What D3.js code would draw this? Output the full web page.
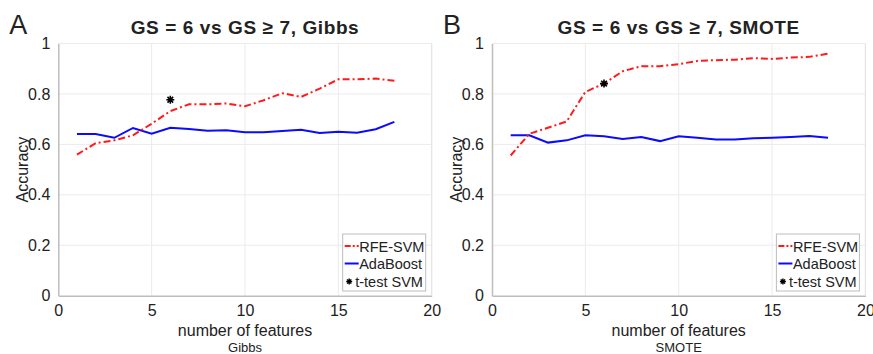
<!DOCTYPE html>
<html>
<head>
<meta charset="utf-8">
<script src="https://cdn.jsdelivr.net/npm/d3@7"></script>
<style>
  body { margin: 0; background: #fff; }
  text { font-family: "Liberation Sans", Arial, sans-serif; fill: #222; }
</style>
</head>
<body>
<div id="chart"></div>
<script>
// Data
var features = [1, 2, 3, 4, 5, 6, 7, 8, 9, 10, 11, 12, 13, 14, 15, 16, 17, 18];

var gibbsRfe = [0.559, 0.605, 0.616, 0.636, 0.682, 0.732, 0.759, 0.759, 0.762, 0.751,
                0.775, 0.803, 0.788, 0.821, 0.858, 0.858, 0.861, 0.852];
var gibbsAda = [0.641, 0.641, 0.626, 0.665, 0.642, 0.666, 0.661, 0.654, 0.656, 0.648,
                0.648, 0.653, 0.658, 0.645, 0.650, 0.646, 0.660, 0.689];
var gibbsTtest = { x: 6, y: 0.777 };

var smoteRfe = [0.556, 0.642, 0.666, 0.691, 0.808, 0.841, 0.890, 0.910, 0.910, 0.918,
                0.931, 0.934, 0.936, 0.942, 0.939, 0.944, 0.947, 0.960];
var smoteAda = [0.636, 0.636, 0.607, 0.616, 0.636, 0.632, 0.621, 0.629, 0.613, 0.632,
                0.626, 0.619, 0.619, 0.624, 0.626, 0.629, 0.633, 0.626];
var smoteTtest = { x: 6, y: 0.841 };

var xTicks = [0, 5, 10, 15, 20];
var yTicks = [0, 0.2, 0.4, 0.6, 0.8, 1];
var legendNames = ["RFE-SVM", "AdaBoost", "t-test SVM"];

var panels = [
  { letter: "A", title: "GS = 6 vs GS \u2265 7, Gibbs", sub: "Gibbs", left: 58.3,
    rfe: gibbsRfe, ada: gibbsAda, star: gibbsTtest },
  { letter: "B", title: "GS = 6 vs GS \u2265 7, SMOTE", sub: "SMOTE", left: 492,
    rfe: smoteRfe, ada: smoteAda, star: smoteTtest }
];

// Measurement
var w = 873, h = 354;
var plotW = 373.4, plotTop = 43.5, plotBottom = 295.7;

var svg = d3.select("#chart")
  .append("svg")
  .attr("width", w)
  .attr("height", h);

// asterisk marker like MATLAB '*'
function starPath(r) {
  var p = "";
  for (var k = 0; k < 4; k++) {
    var a = k * Math.PI / 4;
    p += "M" + (-r * Math.cos(a)) + "," + (-r * Math.sin(a)) + "L" + (r * Math.cos(a)) + "," + (r * Math.sin(a));
  }
  return p;
}

panels.forEach(function(pn) {
  var xScale = d3.scaleLinear().domain([0, 20]).range([pn.left, pn.left + plotW]);
  var yScale = d3.scaleLinear().domain([0, 1]).range([plotBottom, plotTop]);

  var g = svg.append("g");

  // grid
  g.selectAll(".vgrid")
    .data(xTicks.slice(1))
    .enter()
    .append("line")
    .attr("x1", function(d) { return xScale(d); })
    .attr("x2", function(d) { return xScale(d); })
    .attr("y1", plotTop)
    .attr("y2", plotBottom)
    .attr("stroke", "#ebebeb")
    .attr("stroke-width", 1);

  g.selectAll(".hgrid")
    .data(yTicks.slice(1))
    .enter()
    .append("line")
    .attr("x1", pn.left)
    .attr("x2", pn.left + plotW)
    .attr("y1", function(d) { return yScale(d); })
    .attr("y2", function(d) { return yScale(d); })
    .attr("stroke", "#ebebeb")
    .attr("stroke-width", 1);

  // axes
  var xAxis = d3.axisBottom(xScale).tickValues(xTicks).tickSize(0).tickPadding(9).tickFormat(d3.format("d"));
  var yAxis = d3.axisLeft(yScale).tickValues(yTicks).tickSize(0).tickPadding(8).tickFormat(function(d) { return d === 0 || d === 1 ? d : d.toFixed(1); });

  var gx = g.append("g")
    .attr("transform", "translate(0," + plotBottom + ")")
    .call(xAxis);
  var gy = g.append("g")
    .attr("transform", "translate(" + pn.left + ",0)")
    .call(yAxis);

  [gx, gy].forEach(function(a) {
    a.select(".domain").attr("stroke", "#bdbdbd").attr("stroke-width", 1.5);
    a.selectAll("text")
      .attr("font-family", "Liberation Sans, Arial, sans-serif")
      .attr("font-size", 16)
      .attr("fill", "#262626");
  });

  // right border
  g.append("line")
    .attr("x1", pn.left + plotW).attr("x2", pn.left + plotW)
    .attr("y1", plotTop).attr("y2", plotBottom)
    .attr("stroke", "#e4e4e4").attr("stroke-width", 1);

  // lines
  var line = function(vals) {
    return d3.line()
      .x(function(d, i) { return xScale(features[i]); })
      .y(function(d) { return yScale(d); })(vals);
  };

  g.append("path")
    .attr("d", line(pn.ada))
    .attr("fill", "none")
    .attr("stroke", "#0a0aff")
    .attr("stroke-width", 2);

  g.append("path")
    .attr("d", line(pn.rfe))
    .attr("fill", "none")
    .attr("stroke", "#ff1a1a")
    .attr("stroke-width", 2)
    .attr("stroke-dasharray", "7,3,2,3");

  g.append("path")
    .attr("d", starPath(4))
    .attr("transform", "translate(" + xScale(pn.star.x) + "," + yScale(pn.star.y) + ")")
    .attr("stroke", "#000")
    .attr("stroke-width", 1.6);

  // titles
  g.append("text")
    .attr("x", pn.left - 49)
    .attr("y", 34)
    .attr("font-size", 27)
    .attr("fill", "#111")
    .text(pn.letter);

  g.append("text")
    .attr("x", pn.left + plotW / 2)
    .attr("y", 33.5)
    .attr("text-anchor", "middle")
    .attr("font-size", 19)
    .attr("letter-spacing", 0.6)
    .attr("font-weight", "bold")
    .attr("fill", "#111")
    .text(pn.title);

  g.append("text")
    .attr("transform", "translate(" + (pn.left - 30) + "," + ((plotTop + plotBottom) / 2) + ") rotate(-90)")
    .attr("text-anchor", "middle")
    .attr("font-size", 16)
    .text("Accuracy");

  g.append("text")
    .attr("x", pn.left + plotW / 2)
    .attr("y", 335.5)
    .attr("text-anchor", "middle")
    .attr("font-size", 16)
    .text("number of features");

  g.append("text")
    .attr("x", pn.left + plotW / 2)
    .attr("y", 352)
    .attr("text-anchor", "middle")
    .attr("font-family", "Open Sans, sans-serif")
    .attr("font-size", 13)
    .text(pn.sub);

  // legend
  var lx = pn.left + plotW - 89, ly = 234;
  var leg = g.append("g").attr("transform", "translate(" + lx + "," + ly + ")");
  leg.append("rect")
    .attr("width", 83)
    .attr("height", 57)
    .attr("fill", "#fff")
    .attr("stroke", "#bdbdbd")
    .attr("stroke-width", 1);

  leg.selectAll(".lt")
    .data(legendNames)
    .enter()
    .append("text")
    .attr("x", function(d, i) { return i === 2 ? 12.5 : 16.5; })
    .attr("y", function(d, i) { return 17.5 + i * 17.8; })
    .attr("font-size", 14.5)
    .attr("fill", "#1a1a1a")
    .text(function(d) { return d; });

  leg.append("line")
    .attr("x1", 2).attr("x2", 16).attr("y1", 12).attr("y2", 12)
    .attr("stroke", "#ff1a1a").attr("stroke-width", 2).attr("stroke-dasharray", "6,2,2,2");
  leg.append("line")
    .attr("x1", 2).attr("x2", 16).attr("y1", 29.5).attr("y2", 29.5)
    .attr("stroke", "#0a0aff").attr("stroke-width", 2);
  leg.append("path")
    .attr("d", starPath(3))
    .attr("transform", "translate(6.5,47.5)")
    .attr("stroke", "#000").attr("stroke-width", 1.4);
});
</script>
</body>
</html>
